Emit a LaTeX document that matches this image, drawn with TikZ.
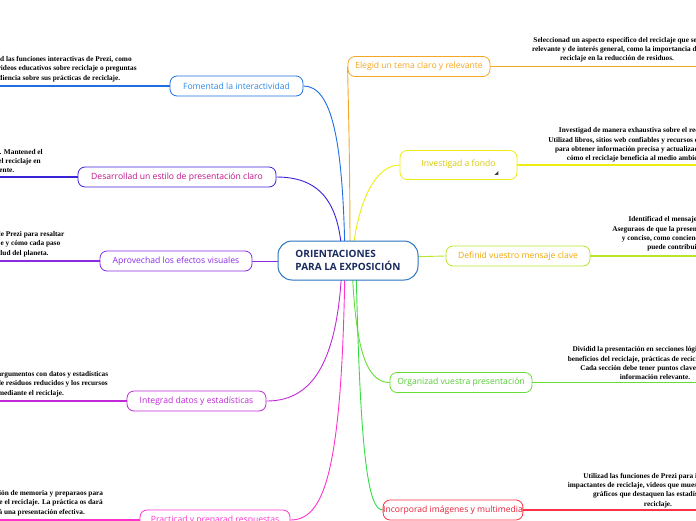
\documentclass[tikz,border=0pt]{standalone}
\usepackage{fontspec}
\setmainfont{Liberation Serif}
\newfontfamily\labelfont{Open Sans}
\usetikzlibrary{backgrounds}
\definecolor{cfom}{HTML}{1E6FE0}
\definecolor{cfomt}{HTML}{2A8BE8}
\definecolor{cdes}{HTML}{3A22D6}
\definecolor{cdest}{HTML}{C0148A}
\definecolor{capr}{HTML}{8A2BE2}
\definecolor{cint}{HTML}{C02AD6}
\definecolor{cpra}{HTML}{FF33CC}
\definecolor{cele}{HTML}{F5A623}
\definecolor{cinv}{HTML}{EDED10}
\definecolor{cinvt}{HTML}{D8C800}
\definecolor{cdef}{HTML}{B8E62A}
\definecolor{cdeft}{HTML}{F0A800}
\definecolor{corg}{HTML}{66DD33}
\definecolor{corgt}{HTML}{55CC33}
\definecolor{cinc}{HTML}{FF3344}
\definecolor{cinct}{HTML}{E8203A}
\definecolor{cincl}{HTML}{33DD44}
\definecolor{ccen}{HTML}{2A74C0}
\definecolor{ccent}{HTML}{1A2B5E}
\begin{document}
\begin{tikzpicture}[x=1pt,y=-1pt,
  branch/.style={draw, rounded corners=7pt, fill=white, line width=0.8pt,
    font=\labelfont\fontsize{8.6}{10}\selectfont, minimum height=20, inner sep=0pt},
  note/.style={font=\bfseries\fontsize{7.3}{9.3}\selectfont, align=center, inner sep=0pt, anchor=south},
  conn/.style={line width=0.9pt},
  uline/.style={line width=1.1pt}]
\useasboundingbox (0,0) rectangle (696,520);
\clip (0,0) rectangle (696,520);
\coordinate (L) at (0,0);
\coordinate (R) at (696,0);

% branch nodes
\node[branch, draw=cfom, text=cfomt, minimum width=133] (fom) at (236.5,86) {Fomentad la interactividad};
\node[branch, draw=cdes, text=cdest, minimum width=198] (des) at (177,177) {Desarrollad un estilo de presentación claro};
\node[branch, draw=capr, text=capr, minimum width=152] (apr) at (176,261) {Aprovechad los efectos visuales};
\node[branch, draw=cint, text=cint, minimum width=139] (int) at (196.5,401) {Integrad datos y estadísticas};
\node[branch, draw=cpra, text=cpra, minimum width=150] (pra) at (215,520) {Practicad y preparad respuestas};
\node[branch, draw=cele, text=cele, minimum width=142] (ele) at (419,66.5) {Elegid un tema claro y relevante};
\node[branch, draw=cinv, text=cinvt, minimum width=117, minimum height=29] (inv) at (458.5,165) {\raisebox{3pt}{Investigad a fondo}};
\node[branch, draw=cdef, text=cdeft, minimum width=144] (def) at (518,256) {Definid vuestro mensaje clave};
\node[branch, draw=corg, text=corgt, minimum width=142] (org) at (461,382.5) {Organizad vuestra presentación};
\node[branch, draw=cinc, text=cinct, minimum width=138] (inc) at (453,510) {Incorporad imágenes y multimedia};
\fill[black!75] (inv.south east) ++(-19,-5) coordinate (tri) -- ++(0,-4) -- ++(-4,4) -- cycle;

% center node
\node[draw=ccen, fill=white, line width=1pt, rounded corners=14pt, minimum width=140, minimum height=39,
  align=left, text=ccent, font=\labelfont\bfseries\fontsize{10}{13}\selectfont] (c) at (348,260.5)
  {ORIENTACIONES\\PARA LA EXPOSICIÓN};

% hub points
\coordinate (h1) at (345,258);
\coordinate (h2) at (342,258);
\coordinate (h3) at (340,261);
\coordinate (h4) at (342,263);
\coordinate (h5) at (345,263);
\coordinate (h6) at (350,258);
\coordinate (h7) at (352,258);
\coordinate (h8) at (360,258);
\coordinate (h9) at (352,263);
\coordinate (h10) at (356,263);

% connectors (behind nodes)
\begin{pgfonlayer}{background}
\draw[conn, cfom] (h1) .. controls (343,140) and (332,86) .. (fom.east);
\draw[conn, cdes] (h2) .. controls (340,200) and (318,177) .. (des.east);
\draw[conn, capr] (h3) -- (apr.east);
\draw[conn, cint] (h4) .. controls (338,375) and (305,401) .. (int.east);
\draw[conn, cpra] (h5) .. controls (342,470) and (325,520) .. (pra.east);
\draw[conn, cele] (h6) .. controls (350,150) and (348,95) .. (ele.west);
\draw[conn, cinv] (h7) .. controls (358,195) and (378,165) .. (inv.west);
\draw[conn, cdef] (h8) -- (def.west);
\draw[conn, corg] (h9) .. controls (355,345) and (365,382.5) .. (org.west);
\draw[conn, cincl] (h10) .. controls (360,455) and (368,510) .. (inc.west);
\end{pgfonlayer}

% underlines
\draw[uline, cfom] (fom.west) -- (fom.west -| L);
\draw[uline, cdes] (des.west) -- (des.west -| L);
\draw[uline, capr] (apr.west) -- (apr.west -| L);
\draw[uline, cint] (int.west) -- (int.west -| L);
\draw[uline, cpra] (pra.west) -- (pra.west -| L);
\draw[uline, cele] (ele.east) -- (ele.east -| R);
\draw[uline, cinv] (inv.east) -- (inv.east -| R);
\draw[uline, cdef] (def.east) -- (def.east -| R);
\draw[uline, corg] (org.east) -- (org.east -| R);
\draw[uline, cinc] (inc.east) -- (inc.east -| R);

% notes
\node[note] (n1) at (49,82) {Aprovechad las funciones interactivas de Prezi, como\\incluyendo videos educativos sobre reciclaje o preguntas\\a la audiencia sobre sus prácticas de reciclaje.};
\node[note] (n2) at (-15,173) {Usad un diseño sencillo. Mantened el\\el foco en el impacto del reciclaje en\\el medio ambiente.};
\node[note] (n3) at (-3,257) {Usad las transiciones de Prezi para resaltar\\el proceso del reciclaje y cómo cada paso\\contribuye a la salud del planeta.};
\node[note] (n4) at (11,397) {Reforzad y complementad argumentos con datos y estadísticas\\relevantes, como cantidad de residuos reducidos y los recursos\\conservados mediante el reciclaje.};
\node[note] (n5) at (-21,516) {Practicad la exposición para mejorar la retención de memoria y preparaos para\\responder a las preguntas de la audiencia sobre el reciclaje. La práctica os dará\\confianza y seguridad, lo que os facilitará una presentación efectiva.};
\node[note] (n6) at (617,62.5) {Seleccionad un aspecto específico del reciclaje que sea\\relevante y de interés general, como la importancia del\\reciclaje en la reducción de residuos.};
\node[note] (n7) at (638,162.5) {Investigad de manera exhaustiva sobre el reciclaje.\\Utilizad libros, sitios web confiables y recursos educativos\\para obtener información precisa y actualizada sobre\\cómo el reciclaje beneficia al medio ambiente.};
\node[note] (n8) at (701,251.5) {Identificad el mensaje central de la exposición.\\Aseguraos de que la presentación tenga un mensaje claro\\y conciso, como concienciar sobre cómo el reciclaje\\puede contribuir a un futuro sano.};
\node[note] (n9) at (655,380) {Dividid la presentación en secciones lógicas, como los\\beneficios del reciclaje, prácticas de reciclaje y consejos.\\Cada sección debe tener puntos clave resumidos\\información relevante.};
\node[note] (n10) at (658,508) {Utilizad las funciones de Prezi para incluir fotos\\impactantes de reciclaje, videos que muestren el proceso y\\gráficos que destaquen las estadísticas del\\reciclaje.};
\end{tikzpicture}
\end{document}
